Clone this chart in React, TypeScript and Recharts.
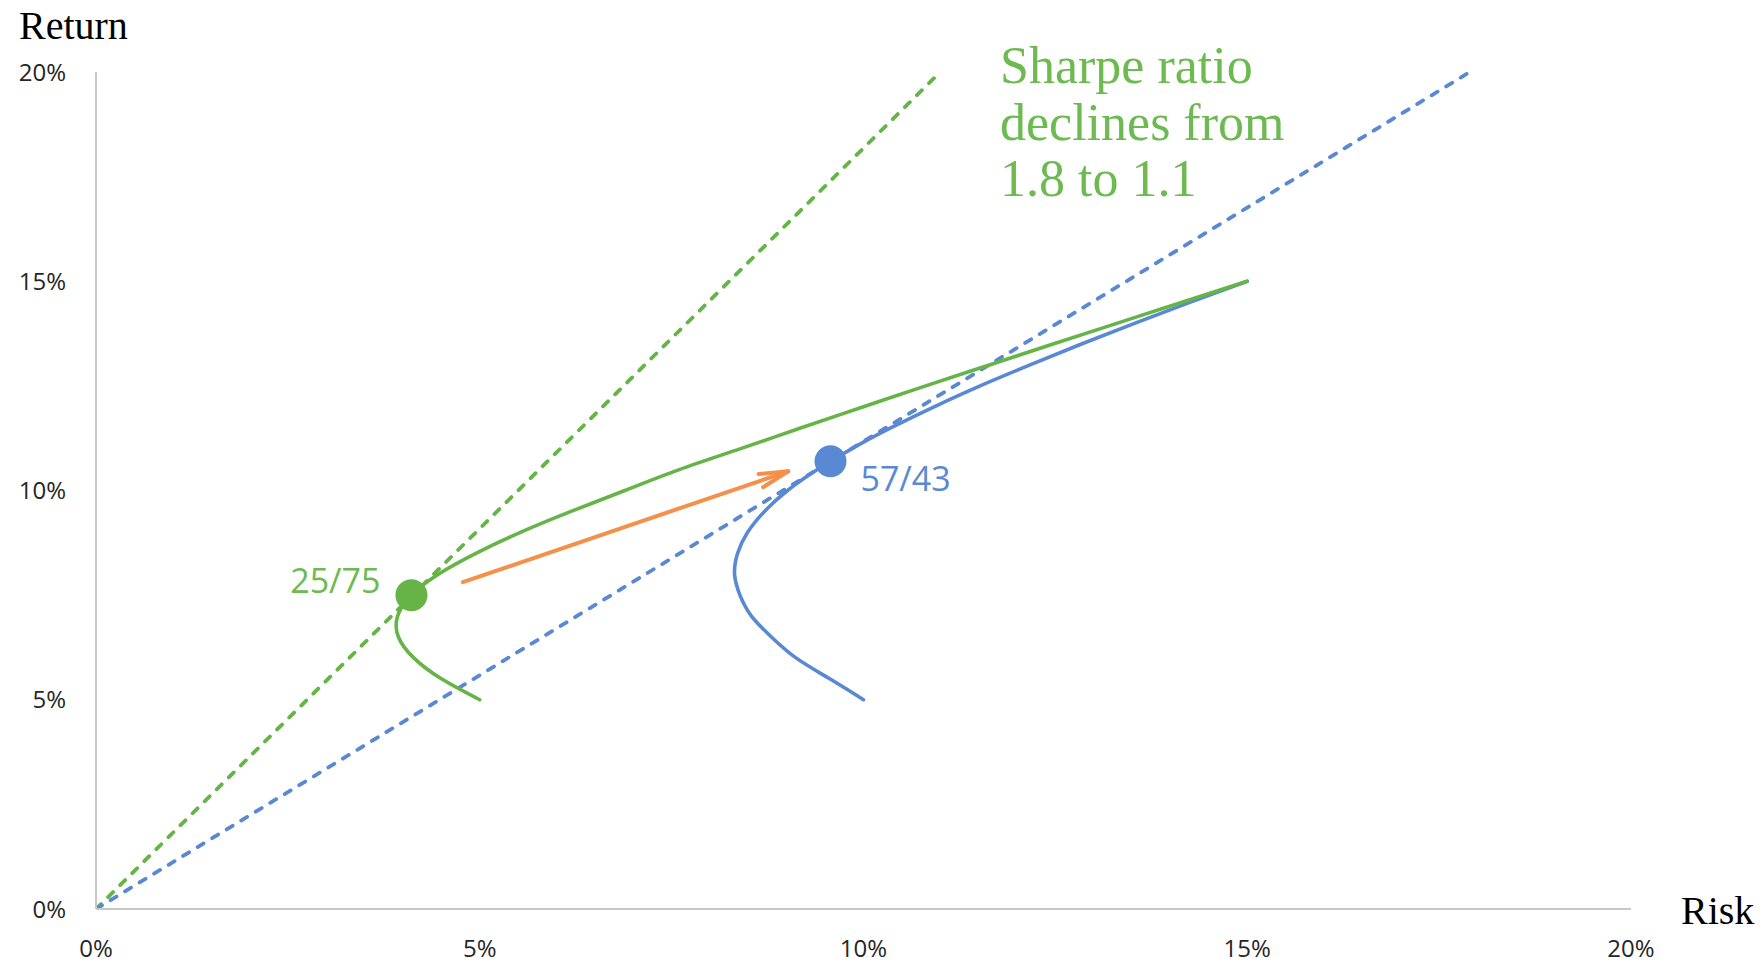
import React from 'react';
import { ComposedChart, Line, XAxis, YAxis, ReferenceDot, Customized } from 'recharts';

// Axis ticks (percent)
const riskTicks = [0, 5, 10, 15, 20];
const returnTicks = [0, 5, 10, 15, 20];

// Efficient frontier mixing stocks with the low-risk bond (risk %, return %)
const greenFrontier = [
  { x: 5.0, y: 5.0 },
  { x: 4.5, y: 5.5 },
  { x: 4.14, y: 6.0 },
  { x: 3.94, y: 6.5 },
  { x: 3.93, y: 7.0 },
  { x: 4.11, y: 7.5 },
  { x: 4.46, y: 8.0 },
  { x: 4.95, y: 8.5 },
  { x: 5.53, y: 9.0 },
  { x: 6.19, y: 9.5 },
  { x: 6.89, y: 10.0 },
  { x: 7.6, y: 10.5 },
  { x: 8.4, y: 11.0 },
  { x: 9.19, y: 11.5 },
  { x: 10.0, y: 12.0 },
  { x: 10.81, y: 12.5 },
  { x: 11.64, y: 13.0 },
  { x: 12.47, y: 13.5 },
  { x: 13.31, y: 14.0 },
  { x: 14.15, y: 14.5 },
  { x: 15.0, y: 15.0 },
];

// Efficient frontier mixing stocks with the higher-risk bond (risk %, return %)
const blueFrontier = [
  { x: 10.0, y: 5.0 },
  { x: 9.56, y: 5.5 },
  { x: 9.12, y: 6.0 },
  { x: 8.8, y: 6.5 },
  { x: 8.54, y: 7.0 },
  { x: 8.39, y: 7.5 },
  { x: 8.32, y: 8.0 },
  { x: 8.36, y: 8.5 },
  { x: 8.49, y: 9.0 },
  { x: 8.71, y: 9.5 },
  { x: 9.01, y: 10.0 },
  { x: 9.4, y: 10.5 },
  { x: 9.85, y: 11.0 },
  { x: 10.36, y: 11.5 },
  { x: 10.92, y: 12.0 },
  { x: 11.52, y: 12.5 },
  { x: 12.17, y: 13.0 },
  { x: 12.84, y: 13.5 },
  { x: 13.54, y: 14.0 },
  { x: 14.26, y: 14.5 },
  { x: 15.0, y: 15.0 },
];

// Capital allocation lines through the tangency portfolios
const greenCapitalLine = [
  { x: 0, y: 0 },
  { x: 11.0, y: 20 },
];
const blueCapitalLine = [
  { x: 0, y: 0 },
  { x: 17.9, y: 20 },
];

// Shift from one tangency portfolio to the other
const shiftArrow = [
  { x: 4.78, y: 7.81 },
  { x: 9.02, y: 10.46 },
];

// Tangency portfolios (stocks/bonds)
const greenPortfolio = { x: 4.11, y: 7.5, name: '25/75' };
const bluePortfolio = { x: 9.57, y: 10.7, name: '57/43' };

const annotationLines = ['Sharpe ratio', 'declines from', '1.8 to 1.1'];

const GREEN = '#66B447';
const GREEN_TEXT = '#6CBA50';
const BLUE = '#5A89D3';
const ORANGE = '#F4904A';
const AXIS = '#C8C8C8';
const TICK_FONT = "'Open Sans', 'Noto Sans', sans-serif";
const SERIF = "'Liberation Serif', 'DejaVu Serif', serif";

const pct = (v: number) => `${v}%`;

const tickStyle = { fill: '#262626', fontSize: 24, fontFamily: TICK_FONT };

function PortfolioLabel(props: any, text: string, color: string, side: 'left' | 'right') {
  const vb = props.viewBox || {};
  const cx = vb.x + vb.width / 2;
  const cy = vb.y + vb.height / 2;
  const left = side === 'left';
  return (
    <text
      x={left ? cx - 31 : cx + 30}
      y={left ? cy - 2 : cy + 30}
      textAnchor={left ? 'end' : 'start'}
      fill={color}
      fontSize={34}
      fontFamily={TICK_FONT}
    >
      {text}
    </text>
  );
}

function Annotations() {
  return (
    <g>
      <text x={19} y={39} fontSize={40} fontFamily={SERIF} fill="#000">
        Return
      </text>
      <text x={1681} y={924} fontSize={40} fontFamily={SERIF} fill="#000">
        Risk
      </text>
      <text x={1000} y={83} fontSize={52} fontFamily={SERIF} fill={GREEN_TEXT}>
        {annotationLines.map((line, i) => (
          <tspan key={line} x={1000} dy={i === 0 ? 0 : 56.5}>
            {line}
          </tspan>
        ))}
      </text>
    </g>
  );
}

export default function App() {
  return (
    <div style={{ position: 'absolute', left: 0, top: 0, width: 1763, height: 963, background: '#fff' }}>
      <svg width={0} height={0} style={{ position: 'absolute' }}>
        <defs>
          <marker
            id="shiftArrowHead"
            markerUnits="userSpaceOnUse"
            markerWidth={40}
            markerHeight={40}
            refX={0}
            refY={0}
            orient="auto"
            overflow="visible"
          >
            <path
              d="M-29,-7 L0,0 L-29,7"
              fill="none"
              stroke={ORANGE}
              strokeWidth={4}
              strokeLinecap="round"
              strokeLinejoin="round"
            />
          </marker>
        </defs>
      </svg>
      <ComposedChart width={1763} height={963} margin={{ top: 72, right: 132, bottom: 0, left: 0 }}>
        <XAxis
          type="number"
          dataKey="x"
          domain={[0, 20]}
          ticks={riskTicks}
          allowDataOverflow
          tickFormatter={pct}
          axisLine={{ stroke: AXIS, strokeWidth: 2 }}
          tickLine={false}
          tickSize={0}
          tickMargin={31}
          height={54}
          tick={tickStyle}
          interval={0}
        />
        <YAxis
          type="number"
          dataKey="y"
          domain={[0, 20]}
          ticks={returnTicks}
          allowDataOverflow
          tickFormatter={pct}
          axisLine={{ stroke: AXIS, strokeWidth: 2 }}
          tickLine={false}
          tickSize={0}
          tickMargin={30}
          width={96}
          tick={tickStyle}
          interval={0}
        />
        <Line
          data={greenCapitalLine}
          dataKey="y"
          type="linear"
          stroke={GREEN}
          strokeWidth={3.8}
          strokeDasharray="7 10"
          strokeLinecap="round"
          dot={false}
          activeDot={false}
          isAnimationActive={false}
        />
        <Line
          data={blueCapitalLine}
          dataKey="y"
          type="linear"
          stroke={BLUE}
          strokeWidth={3.8}
          strokeDasharray="7 10"
          strokeLinecap="round"
          dot={false}
          activeDot={false}
          isAnimationActive={false}
        />
        <Line
          data={blueFrontier}
          dataKey="y"
          type="natural"
          stroke={BLUE}
          strokeWidth={3.6}
          strokeLinecap="round"
          dot={false}
          activeDot={false}
          isAnimationActive={false}
        />
        <Line
          data={greenFrontier}
          dataKey="y"
          type="natural"
          stroke={GREEN}
          strokeWidth={3.6}
          strokeLinecap="round"
          dot={false}
          activeDot={false}
          isAnimationActive={false}
        />
        <Line
          data={shiftArrow}
          dataKey="y"
          type="linear"
          stroke={ORANGE}
          strokeWidth={4}
          strokeLinecap="round"
          markerEnd="url(#shiftArrowHead)"
          dot={false}
          activeDot={false}
          isAnimationActive={false}
        />
        <ReferenceDot
          x={greenPortfolio.x}
          y={greenPortfolio.y}
          r={16}
          fill={GREEN}
          stroke="none"
          label={(p: any) => PortfolioLabel(p, greenPortfolio.name, GREEN_TEXT, 'left')}
        />
        <ReferenceDot
          x={bluePortfolio.x}
          y={bluePortfolio.y}
          r={16}
          fill={BLUE}
          stroke="none"
          label={(p: any) => PortfolioLabel(p, bluePortfolio.name, BLUE, 'right')}
        />
        <Customized component={Annotations} />
      </ComposedChart>
    </div>
  );
}
